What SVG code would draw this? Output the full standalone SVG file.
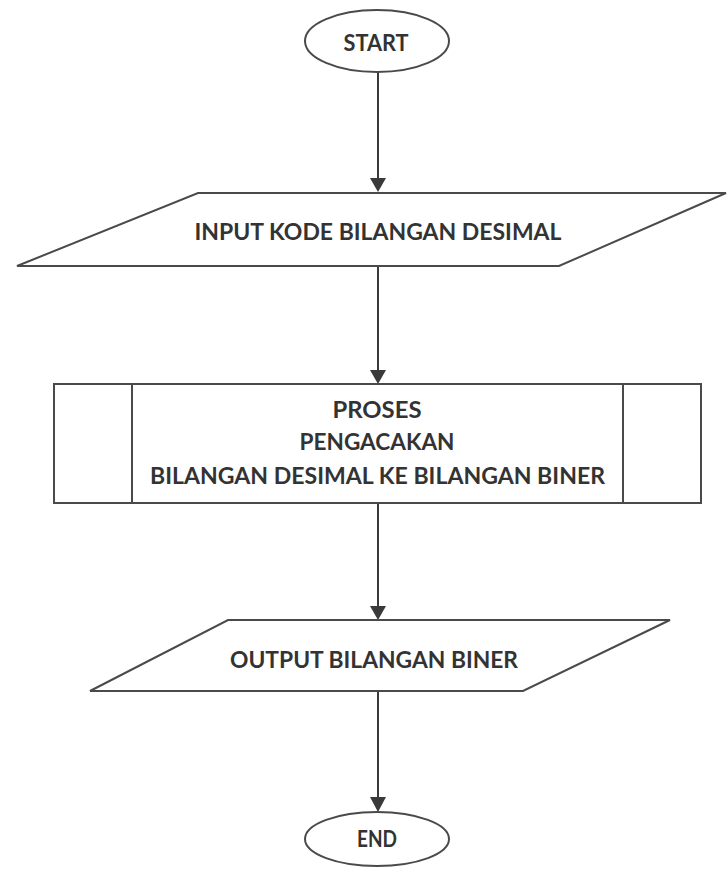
<svg xmlns="http://www.w3.org/2000/svg" width="727" height="869" viewBox="0 0 727 869">
<style>
.shape{fill:#fff;stroke:#4a4a4a;stroke-width:2}
.conn{stroke:#3a3a3a;stroke-width:2;fill:none}
.head{fill:#3a3a3a}
text{font-family:Lato,"Open Sans","Liberation Sans",sans-serif;font-weight:bold;font-size:22px;fill:#333;text-anchor:middle}
</style>
<rect width="727" height="869" fill="#fff"/>
<g id="connectors">
<line class="conn" x1="378" y1="71" x2="378" y2="180"/>
<path class="head" d="M370,178 L386,178 L378,192 z"/>
<line class="conn" x1="378" y1="266" x2="378" y2="372"/>
<path class="head" d="M370,370 L386,370 L378,384 z"/>
<line class="conn" x1="378" y1="503" x2="378" y2="608"/>
<path class="head" d="M370,606 L386,606 L378,620 z"/>
<line class="conn" x1="378" y1="691" x2="378" y2="799"/>
<path class="head" d="M370,797 L386,797 L378,812 z"/>
</g>
<g id="start">
<ellipse class="shape" cx="377" cy="41" rx="72" ry="31"/>
<text x="376" y="51" textLength="65" lengthAdjust="spacingAndGlyphs">START</text>
</g>
<g id="input">
<polygon class="shape" points="198,193 726,193 559,266 17,266"/>
<text x="378" y="240" textLength="367" lengthAdjust="spacingAndGlyphs">INPUT KODE BILANGAN DESIMAL</text>
</g>
<g id="process">
<rect class="shape" x="54" y="384" width="647" height="119"/>
<line class="shape" x1="132" y1="384" x2="132" y2="503"/>
<line class="shape" x1="623" y1="384" x2="623" y2="503"/>
<text x="377" y="418" textLength="89" lengthAdjust="spacingAndGlyphs">PROSES</text>
<text x="377" y="450" textLength="155" lengthAdjust="spacingAndGlyphs">PENGACAKAN</text>
<text x="377.5" y="484" textLength="455" lengthAdjust="spacingAndGlyphs">BILANGAN DESIMAL KE BILANGAN BINER</text>
</g>
<g id="output">
<polygon class="shape" points="228,620 670,620 523,691 90,691"/>
<text x="374" y="668" textLength="288" lengthAdjust="spacingAndGlyphs">OUTPUT BILANGAN BINER</text>
</g>
<g id="end">
<ellipse class="shape" cx="377" cy="839" rx="72" ry="27"/>
<text x="377" y="847" textLength="40" lengthAdjust="spacingAndGlyphs">END</text>
</g>
</svg>
